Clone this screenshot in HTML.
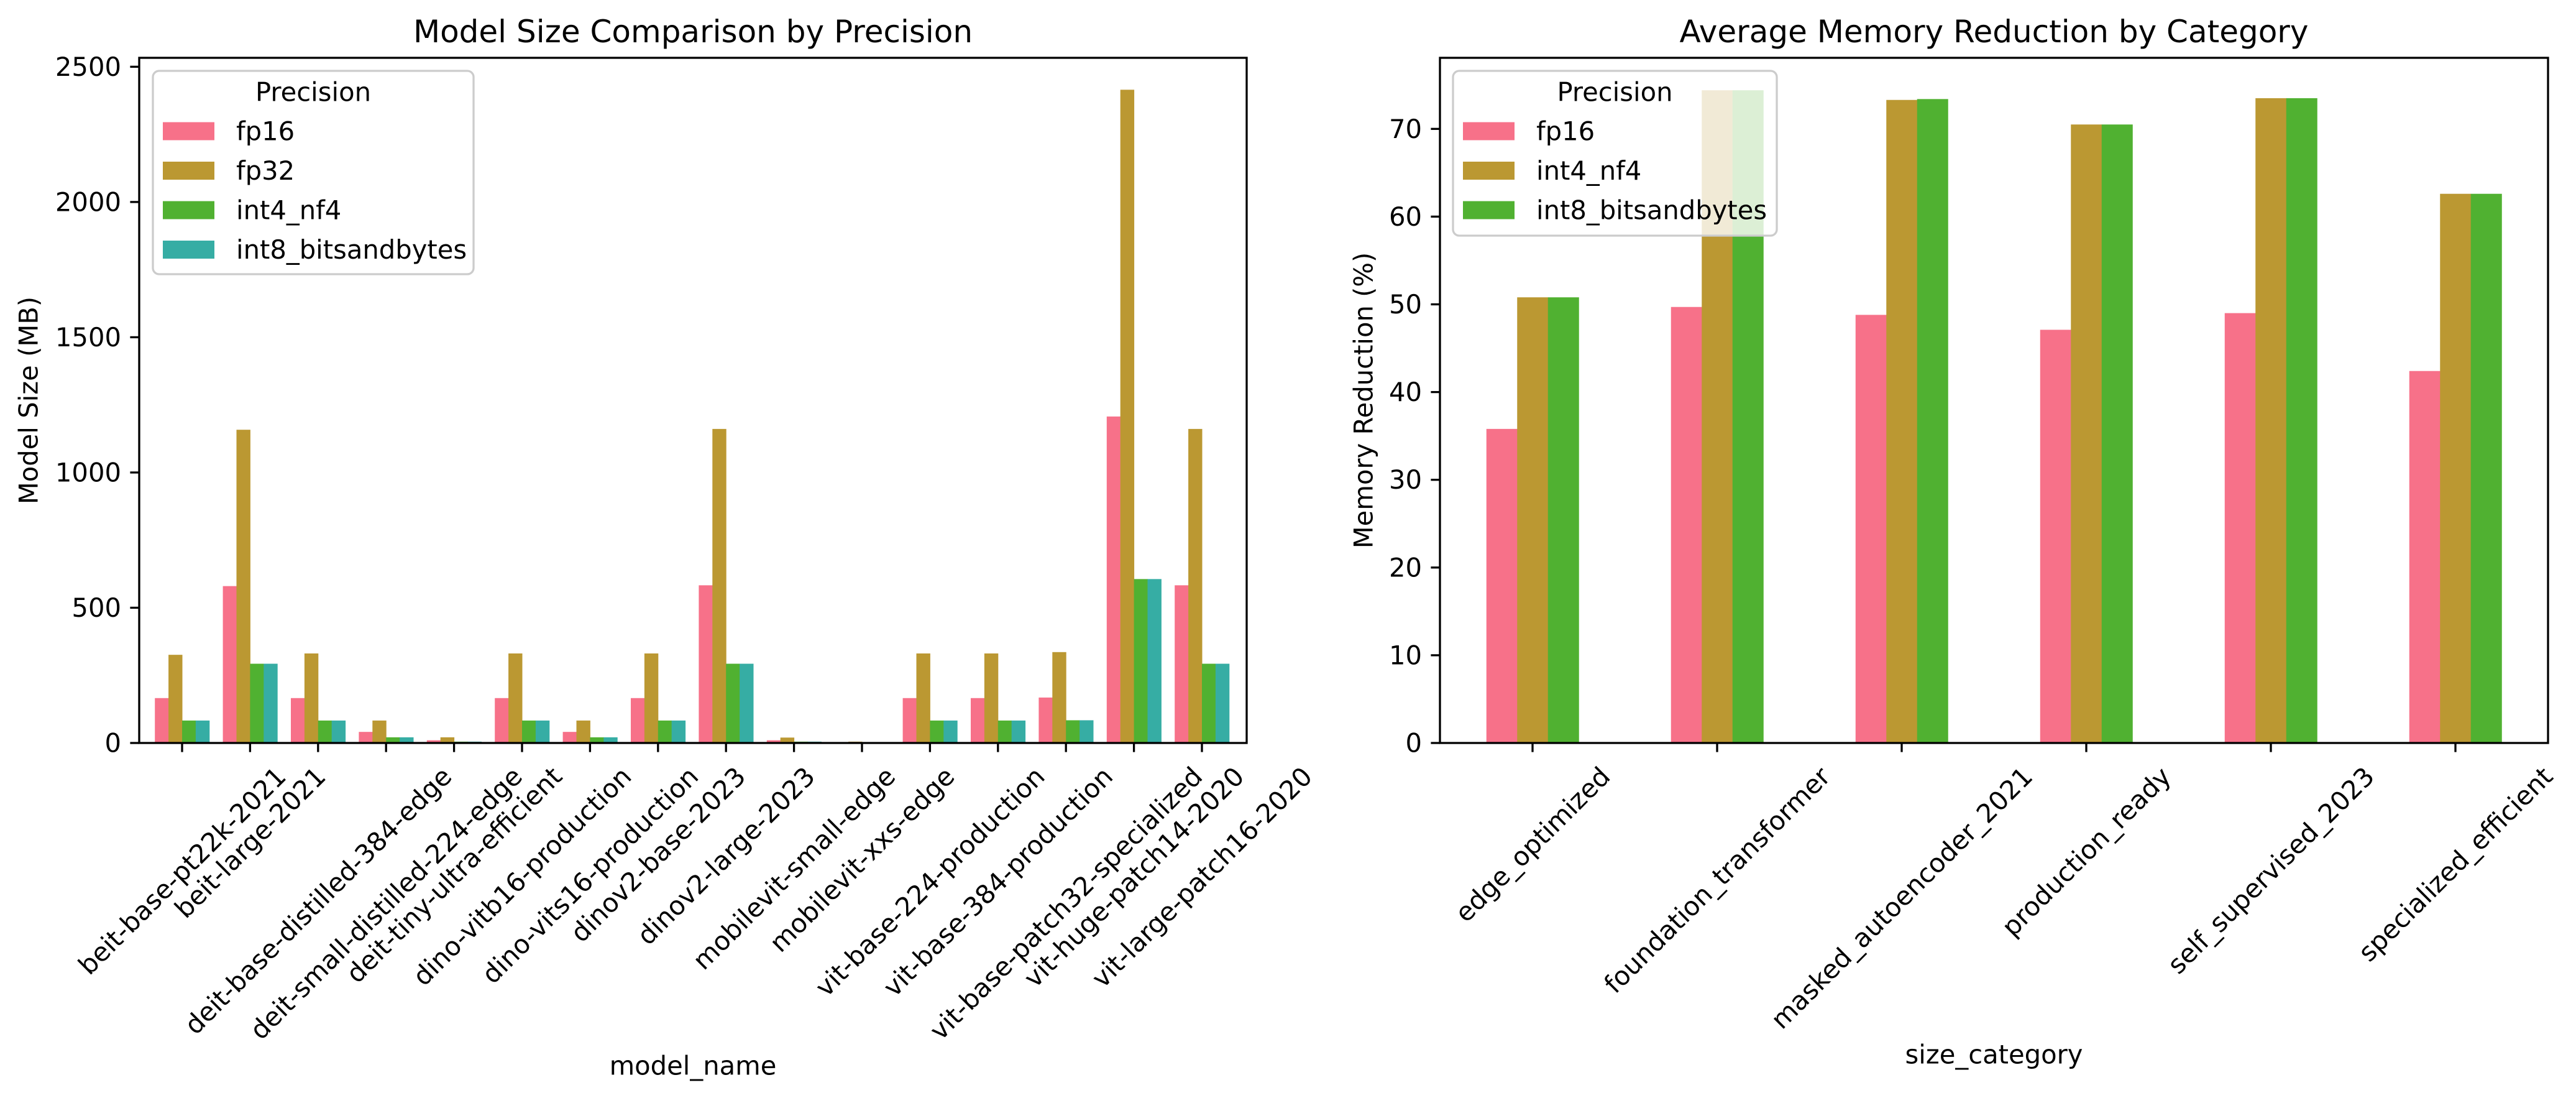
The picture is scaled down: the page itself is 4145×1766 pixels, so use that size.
<!DOCTYPE html>
<html><head><meta charset="utf-8"><style>
html,body{margin:0;padding:0;background:#fff;}
svg{display:block;font-family:"DejaVu Sans","Liberation Sans",sans-serif;}
</style></head><body>
<svg id="fig" width="4145" height="1766" viewBox="0 0 4145 1766" xmlns="http://www.w3.org/2000/svg">
<rect width="4145" height="1766" fill="#fff"/>
<g id="left"></g>
<g id="right"></g>
</svg>
<script>
const models = ["beit-base-pt22k-2021","beit-large-2021","deit-base-distilled-384-edge","deit-small-distilled-224-edge","deit-tiny-ultra-efficient","dino-vitb16-production","dino-vits16-production","dinov2-base-2023","dinov2-large-2023","mobilevit-small-edge","mobilevit-xxs-edge","vit-base-224-production","vit-base-384-production","vit-base-patch32-specialized","vit-huge-patch14-2020","vit-large-patch16-2020"];
const leftSeriesNames = ["fp16","fp32","int4_nf4","int8_bitsandbytes"];
const fp16Size = [166,580,166,41,10,166,41,166,583,10,2,166,166,168,1207,583];
const fp32Size = [326,1158,331,83,21,331,83,331,1161,20,5,331,331,336,2415,1161];
const int4Size = [83,293,83,21,5,83,21,83,293,5,1,83,83,84,606,293];
const int8Size = [83,293,83,21,5,83,21,83,293,5,1,83,83,84,606,293];
const leftTicks = [0,500,1000,1500,2000,2500];

const categories = ["edge_optimized","foundation_transformer","masked_autoencoder_2021","production_ready","self_supervised_2023","specialized_efficient"];
const rightSeriesNames = ["fp16","int4_nf4","int8_bitsandbytes"];
const fp16Red = [35.8,49.7,48.8,47.1,49.0,42.4];
const int4Red = [50.8,74.4,73.3,70.5,73.5,62.6];
const int8Red = [50.8,74.4,73.4,70.5,73.5,62.6];
const rightTicks = [0,10,20,30,40,50,60,70];

const NS = "http://www.w3.org/2000/svg";
function mk(parent, tag, attrs, text){
  const e = document.createElementNS(NS, tag);
  for (const k in attrs) e.setAttribute(k, attrs[k]);
  if (text !== undefined) e.textContent = text;
  parent.appendChild(e);
  return e;
}
const FS = 41.7;

function drawChart(g, cfg){
  const {L,R,T,B,ymax,x0,dx,cats,series,colors,names,ticks,title,ylabel,xlabel,barW,legend,ylabX,xlabY} = cfg;
  const ys = v => B - v*(B-T)/ymax;
  const xs = i => x0 + i*dx;
  const n = series.length;
  series.forEach((arr, s) => {
    arr.forEach((v, i) => {
      const cx = xs(i) - n*barW/2 + s*barW;
      const r = mk(g, "rect", {x:cx, y:ys(v), width:barW+0.5, height:B-ys(v), fill:colors[s]});
      
      
    });
  });
  // axes frame
  const fr = mk(g, "rect", {x:L, y:T, width:R-L, height:B-T, fill:"none", stroke:"#000", "stroke-width":3.3});
  
  
  // y ticks
  ticks.forEach(t => {
    const y = ys(t);
    mk(g, "line", {x1:L-14.6, x2:L, y1:y, y2:y, stroke:"#000", "stroke-width":3.3});
    const tx = mk(g, "text", {x:L-29, y:y, "font-size":FS, "text-anchor":"end", "dominant-baseline":"central"}, String(t));
    
    
  });
  // x ticks
  cats.forEach((c, i) => {
    const x = xs(i);
    mk(g, "line", {x1:x, x2:x, y1:B, y2:B+14.6, stroke:"#000", "stroke-width":3.3});
    const tx = mk(g, "text", {x:0, y:0, "font-size":FS, "text-anchor":"middle", "dominant-baseline":"central"}, c);
    
    
    const len = tx.getComputedTextLength();
    const H = (len + FS*1.17)*0.7071;
    tx.setAttribute("transform", "translate(" + x + "," + (B + 29 + H/2) + ") rotate(-45)");
  });
  const tt = mk(g, "text", {x:(L+R)/2, y:T-25, "font-size":50, "text-anchor":"middle"}, title);
  
  
  const yl = mk(g, "text", {x:0, y:0, "font-size":FS, "text-anchor":"middle", "dominant-baseline":"central", transform:"translate(" + ylabX + "," + ((T+B)/2) + ") rotate(-90)"}, ylabel);
  
  
  const xl = mk(g, "text", {x:(L+R)/2, y:xlabY, "font-size":FS, "text-anchor":"middle", "dominant-baseline":"central"}, xlabel);
  
  
  // legend
  const lg = mk(g, "g", {});
  
  
  mk(lg, "rect", {x:legend.x, y:legend.y, width:legend.w, height:legend.h, rx:10, fill:"#fff", "fill-opacity":0.8, stroke:"#cccccc", "stroke-width":3.3});
  mk(lg, "text", {x:legend.x + legend.w/2, y:148, "font-size":FS, "text-anchor":"middle", "dominant-baseline":"central"}, "Precision");
  names.forEach((nm, s) => {
    const cy = 211 + s*63.5;
    const e = mk(lg, "g", {});
    
    
    mk(e, "rect", {x:legend.x+16, y:cy-14.5, width:83, height:29, fill:colors[s]});
    mk(e, "text", {x:legend.x+134, y:cy, "font-size":FS, "dominant-baseline":"central"}, nm);
  });
}

drawChart(document.getElementById("left"), {
  L:224, R:2006, T:93, B:1195, ymax:2533, x0:293, dx:109.4, barW:21.9,
  cats:models, series:[fp16Size,fp32Size,int4Size,int8Size],
  colors:["#f77189","#bb9832","#50b131","#36ada4"], names:leftSeriesNames,
  ticks:leftTicks, title:"Model Size Comparison by Precision", ylabel:"Model Size (MB)",
  xlabel:"model_name", legend:{x:246,y:114,w:516,h:327}, ylabX:46, xlabY:1714
});
drawChart(document.getElementById("right"), {
  L:2317, R:4100, T:93, B:1195, ymax:78.1, x0:2466, dx:297, barW:49.5,
  cats:categories, series:[fp16Red,int4Red,int8Red],
  colors:["#f77189","#bb9832","#50b131"], names:rightSeriesNames,
  ticks:rightTicks, title:"Average Memory Reduction by Category", ylabel:"Memory Reduction (%)",
  xlabel:"size_category", legend:{x:2338,y:114,w:521,h:265}, ylabX:2194, xlabY:1696
});
</script>
</body></html>
